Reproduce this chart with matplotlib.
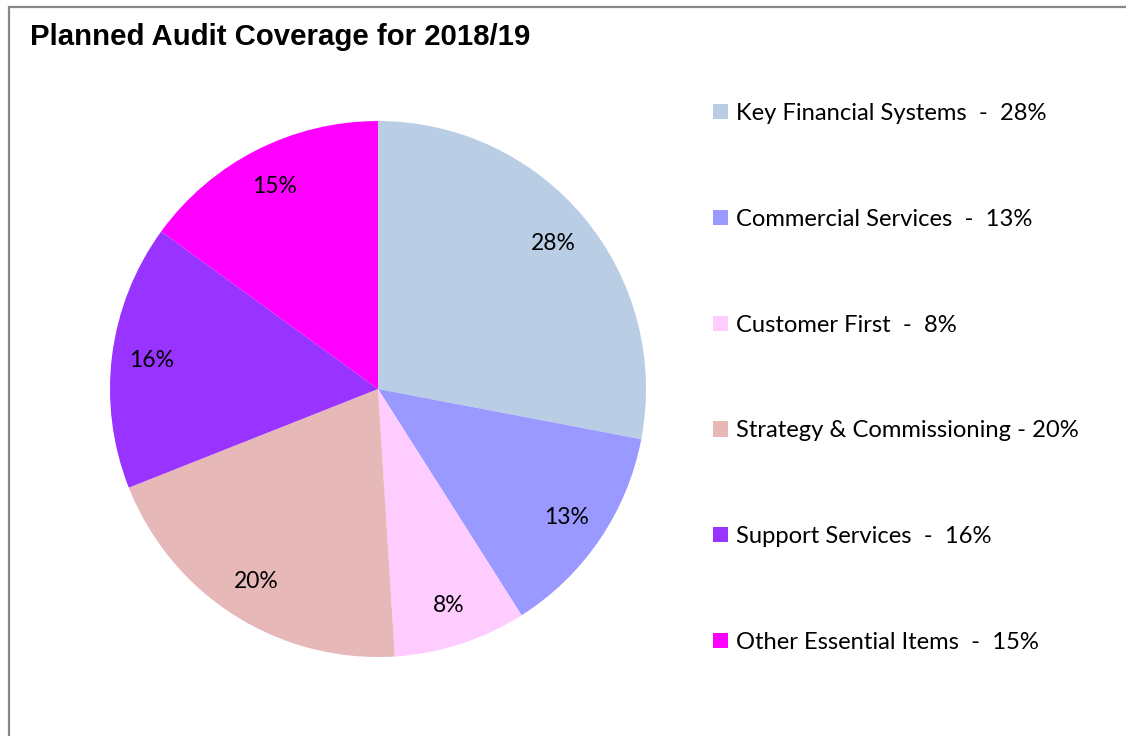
import matplotlib.pyplot as plt
from matplotlib.patches import Rectangle

# data
categories = ['Key Financial Systems', 'Commercial Services', 'Customer First',
              'Strategy & Commissioning', 'Support Services', 'Other Essential Items']
values = [28, 13, 8, 20, 16, 15]
legend_labels = ['Key Financial Systems  -  28%', 'Commercial Services  -  13%',
                 'Customer First  -  8%', 'Strategy & Commissioning - 20%',
                 'Support Services  -  16%', 'Other Essential Items  -  15%']
colors = ['#B9CDE5', '#9999FF', '#FFCCFF', '#E6B9B8', '#9933FF', '#FF00FF']

W, H = 1126, 736
fig = plt.figure(figsize=(W / 100, H / 100), dpi=100)

# outer chart border (gray, cut at right and bottom)
fig.patches.append(Rectangle((8.5 / W, -0.05), 1.2, 1 - 7 / H + 0.05,
                             transform=fig.transFigure, fill=False,
                             edgecolor='#888888', linewidth=1.6))

fig.text(30 / W, 1 - 45 / H, 'Planned Audit Coverage for 2018/19',
         fontsize=21.2, fontweight='bold', family='Liberation Sans', va='baseline')

# pie
cx, cy, r = 378, 389, 268
ax = fig.add_axes([(cx - r) / W, (H - cy - r) / H, 2 * r / W, 2 * r / H])
wedges, texts = ax.pie(values, colors=colors, startangle=90, counterclock=False,
                       labels=[f'{v}%' for v in values], labeldistance=0.85,
                       textprops=dict(fontsize=16.5, family='Lato'))
for t in texts:
    t.set_horizontalalignment('center')
    t.set_verticalalignment('center')
ax.set_xlim(-1, 1)
ax.set_ylim(-1, 1)
ax.axis('off')

leg = fig.legend(wedges, legend_labels, loc='upper left',
                 bbox_to_anchor=(713 / W, 1 - 103 / H), frameon=False,
                 prop=dict(family='Lato', size=17.1), labelspacing=3.57,
                 handlelength=0.62, handleheight=0.62, handletextpad=0.35,
                 borderpad=0, borderaxespad=0)

fig.savefig('out.png', dpi=100)
